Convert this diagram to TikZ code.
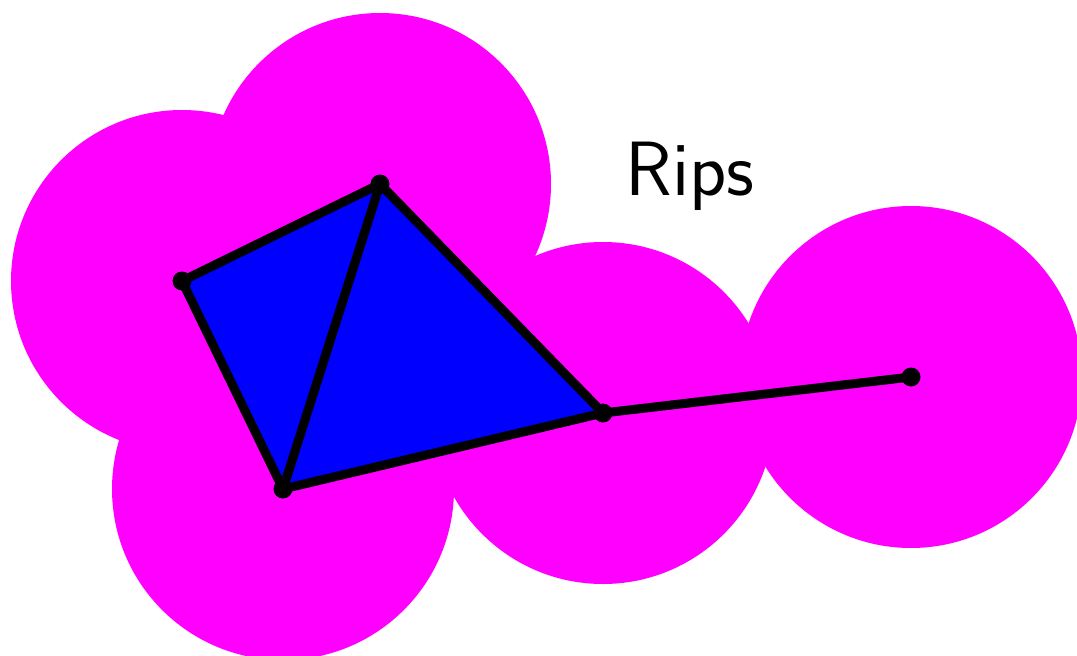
\documentclass[tikz,border=0pt]{standalone}
\tikzset{
  ball/.style={fill={rgb,255:red,255;green,0;blue,255}},
  face/.style={fill={rgb,255:red,0;green,0;blue,255}},
  edge/.style={line width=9pt, line cap=round, line join=round},
  vertex/.style={circle, fill=black, inner sep=0pt, minimum size=19pt}
}
\begin{document}
\begin{tikzpicture}[x=1pt,y=-1pt]
\useasboundingbox (0,0) rectangle (1077,656);
\coordinate (A) at (182,281);
\coordinate (B) at (380,184);
\coordinate (C) at (283,489);
\coordinate (D) at (603,413);
\coordinate (E) at (911,377);
\foreach \p in {A,B,C,D,E} \fill[ball] (\p) circle[radius=171];
\fill[face] (A) -- (B) -- (C) -- cycle;
\fill[face] (B) -- (C) -- (D) -- cycle;
\draw[edge] (A) -- (B);
\draw[edge] (A) -- (C);
\draw[edge] (B) -- (C);
\draw[edge] (B) -- (D);
\draw[edge] (C) -- (D);
\draw[edge] (D) -- (E);
\foreach \p in {A,B,C,D,E} \node[vertex] (v\p) at (\p) {};
\node[font=\sffamily\fontsize{77}{85}\selectfont, anchor=base] (lab) at (690,195) {Rips};
\end{tikzpicture}
\end{document}
